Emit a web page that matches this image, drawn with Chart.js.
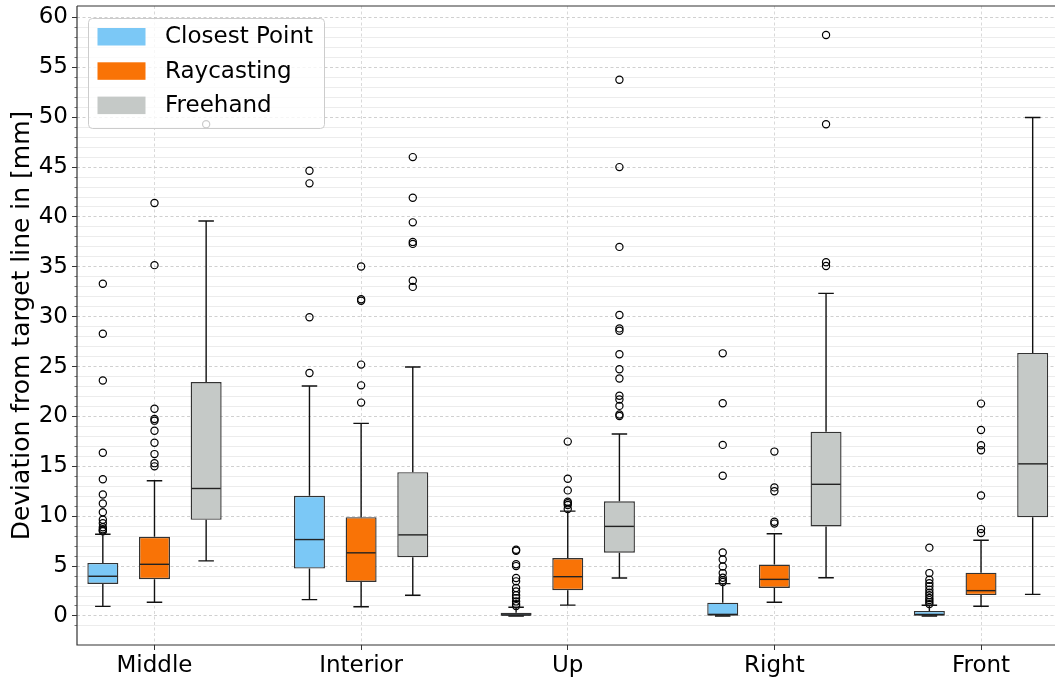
<!DOCTYPE html>
<html>
<head>
<meta charset="utf-8">
<title>Deviation from target line</title>
<script src="https://cdn.jsdelivr.net/npm/chart.js@4.4.1/dist/chart.umd.min.js"></script>
<style>
  html, body { margin: 0; padding: 0; background: #fff; overflow: hidden; }
  #wrap { position: relative; width: 1055px; height: 677px; }
</style>
</head>
<body>
<div id="wrap"><canvas id="boxChart"></canvas></div>
<script>
// categories and tick labels
const categories = ['Middle', 'Interior', 'Up', 'Right', 'Front'];
const positions = [1, 2, 3, 4, 5];
const yTickLabels = [0, 5, 10, 15, 20, 25, 30, 35, 40, 45, 50, 55, 60];

// series names / colours
const seriesNames = ['Closest Point', 'Raycasting', 'Freehand'];
const seriesColors = ['#7bc8f6', '#f97306', '#c5c9c7'];
const seriesOffsets = [-0.25, 0, 0.25];

// Closest Point stats (per category)
const cpLow = [0.96, 1.64, 0.0, 0.0, 0.0];
const cpQ1 = [3.21, 4.75, 0.02, 0.03, 0.02];
const cpMed = [3.98, 7.66, 0.1, 0.16, 0.15];
const cpQ3 = [5.32, 12.05, 0.33, 1.33, 0.51];
const cpHigh = [8.19, 23.05, 0.88, 3.24, 1.08];
const cpOutliers = [
  [8.5, 8.56, 8.7, 8.9, 9.3, 9.64, 10.4, 11.27, 12.18, 13.7, 16.37, 23.6, 28.3, 33.3],
  [24.36, 29.95, 43.37, 44.64],
  [0.99, 1.17, 1.46, 1.79, 2.08, 2.45, 2.81, 3.47, 3.8, 5.0, 5.18, 6.53, 6.64],
  [3.4, 3.59, 3.83, 4.3, 4.96, 5.66, 6.37, 14.06, 17.15, 21.33, 26.33],
  [1.19, 1.39, 1.59, 1.8, 2.07, 2.34, 2.64, 2.98, 3.29, 3.63, 4.3, 6.85]
];

// Raycasting stats
const rcLow = [1.37, 0.93, 1.09, 1.37, 0.98];
const rcQ1 = [3.68, 3.41, 2.59, 2.81, 2.1];
const rcMed = [5.18, 6.33, 3.94, 3.67, 2.54];
const rcQ3 = [7.93, 9.9, 5.8, 5.16, 4.34];
const rcHigh = [13.55, 19.31, 10.51, 8.24, 7.59];
const rcOutliers = [
  [15.0, 15.32, 16.23, 17.37, 18.57, 19.58, 19.74, 20.78, 35.17, 41.4],
  [21.39, 23.12, 25.2, 31.6, 31.75, 35.04],
  [10.73, 11.13, 11.31, 11.46, 12.59, 13.76, 17.48],
  [9.26, 9.45, 12.5, 12.89, 16.48],
  [8.31, 8.71, 12.07, 16.61, 17.12, 18.64, 21.29]
];

// Freehand stats
const fhLow = [5.52, 2.07, 3.8, 3.83, 2.17];
const fhQ1 = [9.64, 5.89, 6.35, 8.98, 9.9];
const fhMed = [12.78, 8.13, 8.98, 13.2, 15.25];
const fhQ3 = [23.45, 14.42, 11.5, 18.48, 26.37];
const fhHigh = [39.59, 24.96, 18.25, 32.34, 49.97];
const fhOutliers = [
  [49.3],
  [32.99, 33.6, 37.3, 37.5, 39.46, 41.93, 46.0],
  [20.04, 20.2, 21.06, 21.7, 22.08, 23.8, 24.74, 26.24, 28.6, 28.83, 30.18, 37.0, 45.0, 53.76],
  [35.08, 35.47, 49.3, 58.24],
  []
];

const series = [
  { low: cpLow, q1: cpQ1, med: cpMed, q3: cpQ3, high: cpHigh, out: cpOutliers },
  { low: rcLow, q1: rcQ1, med: rcMed, q3: rcQ3, high: rcHigh, out: rcOutliers },
  { low: fhLow, q1: fhQ1, med: fhMed, q3: fhQ3, high: fhHigh, out: fhOutliers }
];

const FONT = 'DejaVu Sans';
const capHalf = 0.0375; // half cap width in x units

// no extra label padding around the plot area
const noPad = axis => {
  axis.paddingLeft = 0; axis.paddingRight = 0;
  axis.paddingTop = 0; axis.paddingBottom = 0;
};

// boxes = floating bars q1..q3
const boxDatasets = series.map((s, k) => ({
  type: 'bar',
  label: seriesNames[k],
  data: positions.map((p, i) => ({ x: p + seriesOffsets[k], y: [s.q1[i], s.q3[i]] })),
  backgroundColor: seriesColors[k],
  borderColor: '#333',
  borderWidth: 1.4,
  borderSkipped: false,
  grouped: false,
  categoryPercentage: 0.6,
  barPercentage: 1.0,
  order: 2
}));

// fliers
const outlierDatasets = series.map((s, k) => ({
  type: 'scatter',
  label: seriesNames[k] + ' outliers',
  data: s.out.flatMap((vals, i) => vals.map(v => ({ x: positions[i] + seriesOffsets[k], y: v }))),
  pointRadius: 3.6,
  pointBorderWidth: 1.2,
  pointBorderColor: '#000',
  pointBackgroundColor: 'rgba(0,0,0,0)',
  order: 1
}));

// whiskers, caps, medians
const whiskerPlugin = {
  id: 'whiskers',
  afterDatasetsDraw(chart) {
    const { ctx, scales: { x, y } } = chart;
    ctx.save();
    series.forEach((s, k) => {
      positions.forEach((p, i) => {
        const cx = x.getPixelForValue(p + seriesOffsets[k]);
        const cl = x.getPixelForValue(p + seriesOffsets[k] - capHalf);
        const cr = x.getPixelForValue(p + seriesOffsets[k] + capHalf);
        const bl = x.getPixelForValue(p + seriesOffsets[k] - 0.075);
        const br = x.getPixelForValue(p + seriesOffsets[k] + 0.075);
        ctx.strokeStyle = '#111';
        ctx.lineWidth = 1.4;
        ctx.beginPath();
        ctx.moveTo(cx, y.getPixelForValue(s.q3[i]));
        ctx.lineTo(cx, y.getPixelForValue(s.high[i]));
        ctx.moveTo(cl, y.getPixelForValue(s.high[i]));
        ctx.lineTo(cr, y.getPixelForValue(s.high[i]));
        ctx.moveTo(cx, y.getPixelForValue(s.q1[i]));
        ctx.lineTo(cx, y.getPixelForValue(s.low[i]));
        ctx.moveTo(cl, y.getPixelForValue(s.low[i]));
        ctx.lineTo(cr, y.getPixelForValue(s.low[i]));
        ctx.stroke();
        ctx.strokeStyle = '#222';
        ctx.beginPath();
        ctx.moveTo(bl + 1, y.getPixelForValue(s.med[i]));
        ctx.lineTo(br - 1, y.getPixelForValue(s.med[i]));
        ctx.stroke();
      });
    });
    ctx.restore();
  }
};

// spines + legend inside the plot
const framePlugin = {
  id: 'frame',
  afterDraw(chart) {
    const { ctx, chartArea: a } = chart;
    ctx.save();
    ctx.strokeStyle = '#333';
    ctx.lineWidth = 1.2;
    ctx.beginPath();
    ctx.moveTo(a.left, a.top);
    ctx.lineTo(a.right, a.top);
    ctx.moveTo(a.left, a.top);
    ctx.lineTo(a.left, a.bottom);
    ctx.lineTo(a.right, a.bottom);
    ctx.stroke();

    const lx = a.left + 11, ly = a.top + 12, lw = 236, lh = 110;
    ctx.fillStyle = 'rgba(255,255,255,0.8)';
    ctx.strokeStyle = '#cccccc';
    ctx.lineWidth = 1;
    ctx.beginPath();
    ctx.roundRect(lx + 0.5, ly + 0.5, lw, lh, 4);
    ctx.fill();
    ctx.stroke();
    ctx.font = '23px "' + FONT + '"';
    ctx.textBaseline = 'middle';
    ctx.textAlign = 'left';
    seriesNames.forEach((name, k) => {
      const py = ly + 10 + k * 34.3;
      ctx.fillStyle = seriesColors[k];
      ctx.fillRect(lx + 9.5, py, 48, 17.5);
      ctx.fillStyle = '#000';
      ctx.fillText(name, lx + 77, py + 9.5);
    });
    ctx.restore();
  }
};

new Chart(document.getElementById('boxChart'), {
  type: 'bar',
  data: { datasets: [...boxDatasets, ...outlierDatasets] },
  plugins: [whiskerPlugin, framePlugin],
  options: {
    responsive: true,
    maintainAspectRatio: false,
    animation: false,
    layout: { autoPadding: false, padding: { top: 6, right: 0, left: 0, bottom: 0 } },
    plugins: { legend: { display: false }, tooltip: { enabled: false } },
    scales: {
      x: {
        type: 'linear',
        min: 0.625,
        max: 5.358,
        offset: false,
        afterBuildTicks: axis => { axis.ticks = positions.map(v => ({ value: v })); },
        afterFit: axis => { axis.height = 32; noPad(axis); },
        ticks: {
          autoSkip: false,
          maxRotation: 0,
          padding: 2,
          color: '#000',
          font: { family: FONT, size: 23 },
          callback: v => categories[positions.indexOf(v)]
        },
        grid: { offset: false, color: '#cfcfcf', lineWidth: 0.8, tickLength: 5, tickColor: '#333', tickWidth: 1 },
        border: { display: false, dash: [3, 2.5] }
      },
      y: {
        type: 'linear',
        position: 'left',
        weight: 1,
        min: -2.91,
        max: 61.15,
        afterBuildTicks: axis => { axis.ticks = yTickLabels.map(v => ({ value: v })); },
        afterFit: axis => { axis.width = 77; noPad(axis); },
        ticks: { padding: 4, color: '#000', font: { family: FONT, size: 23 } },
        grid: { color: '#c4c4c4', lineWidth: 0.8, tickLength: 5, tickColor: '#333', tickWidth: 1 },
        border: { display: false, dash: [3, 2.5] },
        title: {
          display: true,
          text: 'Deviation from target line in [mm]',
          color: '#000',
          font: { family: FONT, size: 25 },
          padding: { top: 7, bottom: 0 }
        }
      },
      yMinor: {
        type: 'linear',
        position: 'left',
        weight: 0,
        min: -2.91,
        max: 61.15,
        ticks: { display: false, stepSize: 1 },
        afterBuildTicks: axis => {
          axis.ticks = axis.ticks.filter(t => t.value >= axis.min && t.value <= axis.max &&
            Math.abs(t.value - Math.round(t.value)) < 1e-9 && t.value % 5 !== 0);
        },
        afterFit: axis => { axis.width = 0; noPad(axis); },
        grid: { color: '#ececec', lineWidth: 1, tickLength: 2.5, tickColor: '#555', tickWidth: 0.8, z: -1 },
        border: { display: false }
      }
    }
  }
});
</script>
</body>
</html>
